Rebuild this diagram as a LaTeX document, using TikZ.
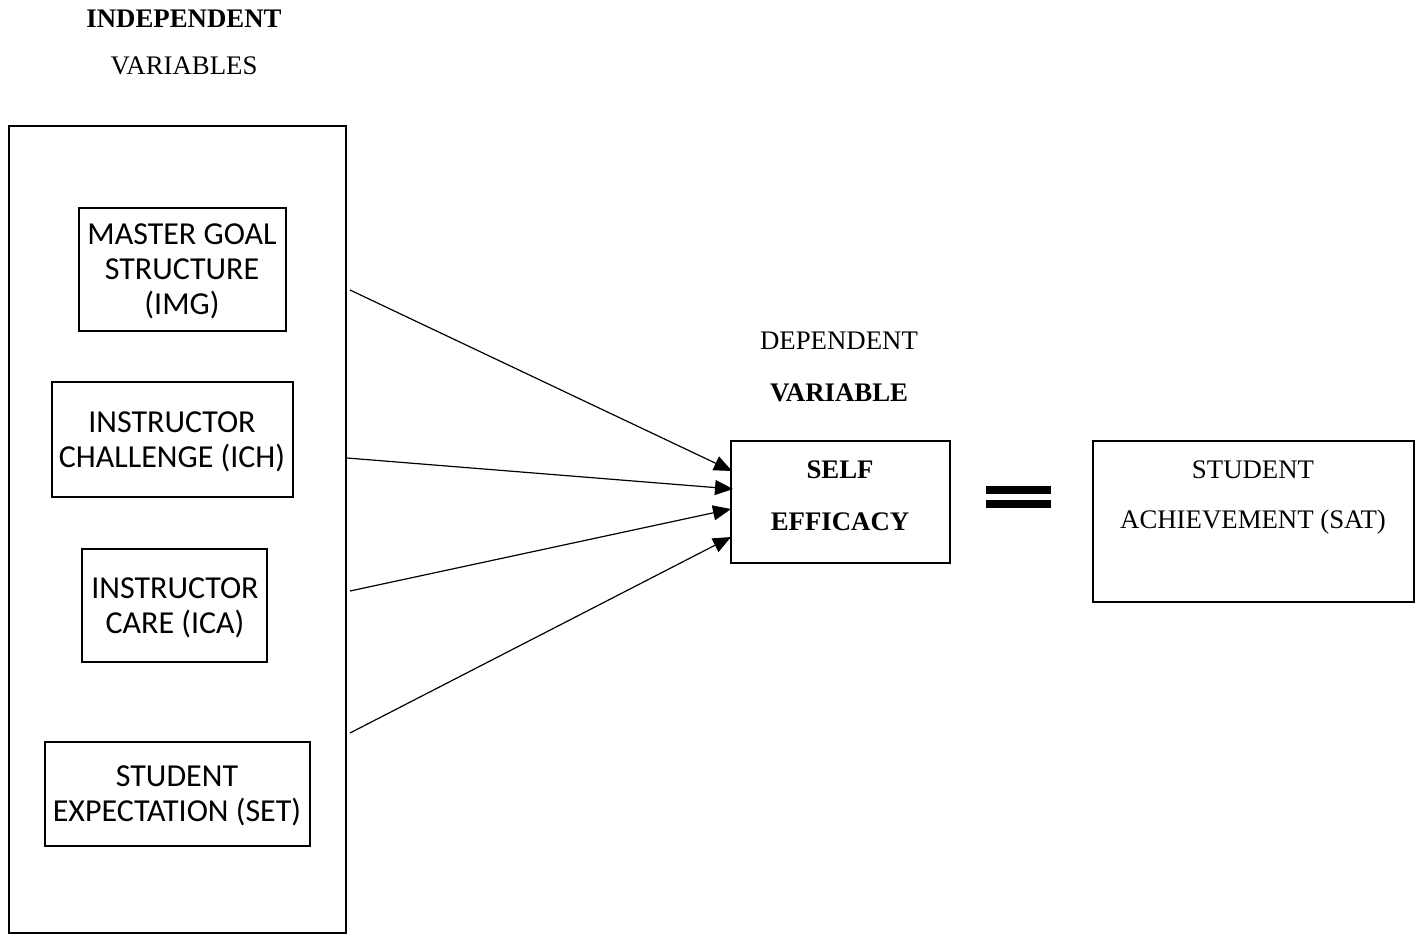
\documentclass[tikz,border=0pt]{standalone}
\usepackage{fontspec}
\setmainfont{Liberation Serif}
\newfontfamily\carlitofont{Carlito}
\usetikzlibrary{arrows.meta}
\begin{document}
\begin{tikzpicture}[x=0.5pt,y=-0.5pt,
  box/.style={draw,line width=1pt},
  caltext/.style={font=\carlitofont\fontsize{16}{17.5}\selectfont,align=center,inner sep=0pt},
  sertext/.style={font=\fontsize{13.4}{15}\selectfont,inner sep=0pt},
  serbold/.style={font=\bfseries\fontsize{13.4}{15}\selectfont,inner sep=0pt},
  conn/.style={line width=0.6pt,-{Triangle[length=9pt,width=7.5pt]}}]
\useasboundingbox (0,0) rectangle (1416,937);
% outer frame
\draw[line width=0.8pt] (9,126) rectangle (346,933);
% left boxes
\draw[box] (79,208) rectangle (286,331);
\node[caltext] (img) at (182,271) {MASTER GOAL\\STRUCTURE\\(IMG)};
\draw[box] (52,382) rectangle (293,497);
\node[caltext] (ich) at (172,442) {INSTRUCTOR\\CHALLENGE (ICH)};
\draw[box] (82,549) rectangle (267,662);
\node[caltext] (ica) at (175,608) {INSTRUCTOR\\CARE (ICA)};
\draw[box] (45,742) rectangle (310,846);
\node[caltext] (set) at (177,796) {STUDENT\\EXPECTATION (SET)};
% headings
\node[serbold] (h1) at (184,19) {INDEPENDENT};
\node[sertext] (h2) at (184,66) {VARIABLES};
\node[sertext] (d1) at (839,341) {DEPENDENT};
\node[serbold] (d2) at (839,393) {VARIABLE};
% self efficacy
\draw[box] (731,441) rectangle (950,563);
\node[serbold] (se1) at (840,470) {SELF};
\node[serbold] (se2) at (840,522) {EFFICACY};
\coordinate (t1) at (732,471);
\coordinate (t2) at (733,489);
\coordinate (t3) at (731,509);
\coordinate (t4) at (731,537);
% arrow starts
\coordinate (s1) at (350,290);
\coordinate (s2) at (347,458);
\coordinate (s3) at (350,591);
\coordinate (s4) at (350,733);
\draw[conn] (s1) -- (t1);
\draw[conn] (s2) -- (t2);
\draw[conn] (s3) -- (t3);
\draw[conn] (s4) -- (t4);
% equals
\fill (986,486) rectangle (1051,494);
\fill (986,500) rectangle (1051,508);
% student achievement
\draw[box] (1093,441) rectangle (1414,602);
\node[sertext] (sa1) at (1253,470) {STUDENT};
\node[sertext] (sa2) at (1253,522) {ACHIEVEMENT (SAT)};
\end{tikzpicture}
\end{document}
